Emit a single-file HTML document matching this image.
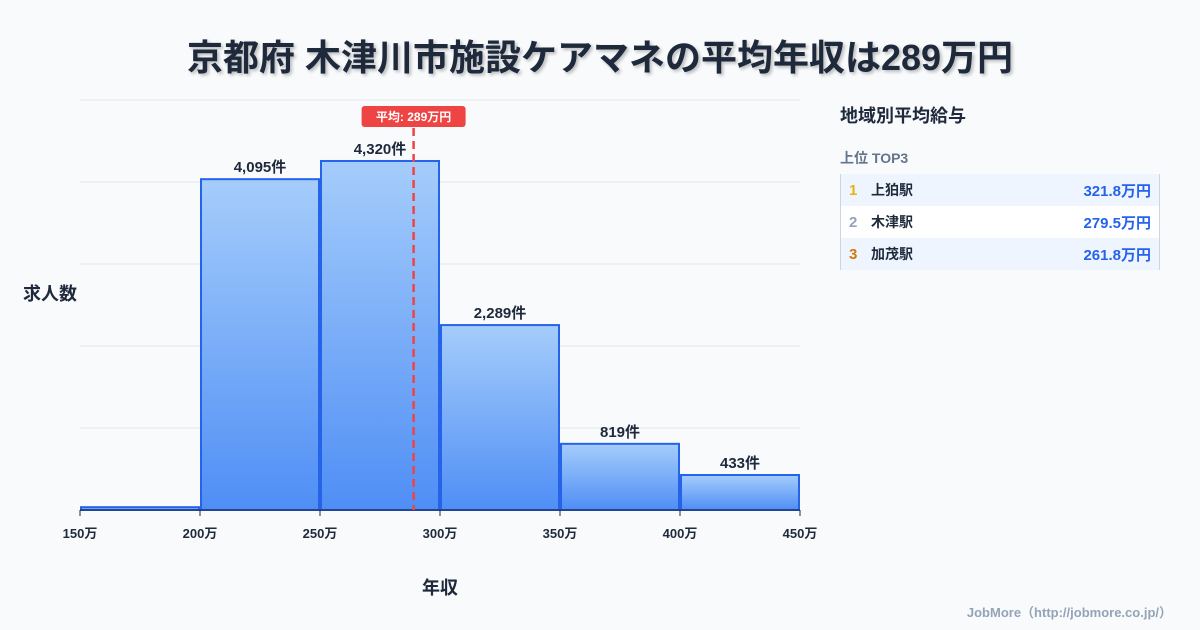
<!DOCTYPE html>
<html><head><meta charset="utf-8"><style>
body{margin:0;width:1200px;height:630px;background:#f8fafc;font-family:"Liberation Sans","Noto Sans CJK JP",sans-serif;overflow:hidden;position:relative;color:#1e293b}
.title{position:absolute;top:29px;left:0;width:1200px;text-align:center;font-size:36px;font-weight:bold;color:#1e293b;text-shadow:2px 2px 3px rgba(0,0,0,0.25)}
.side{position:absolute;left:840px;top:102px;width:320px}
.row{height:32px;display:flex;align-items:center;font-size:14px;font-weight:bold;padding:0 8px;border-left:1px solid #cbd5e1;border-right:1px solid #cbd5e1}
.row .n{width:22px;font-size:15px}
.row .v{margin-left:auto;color:#2563eb;font-size:15px}
</style></head><body>
<div class="title">京都府 木津川市施設ケアマネの平均年収は289万円</div>
<svg id="c" width="1200" height="630" style="position:absolute;left:0;top:0">
<defs><linearGradient id="g" x1="0" y1="0" x2="0" y2="1"><stop offset="0" stop-color="#a5cdfb"/><stop offset="1" stop-color="#4f8ef5"/></linearGradient></defs>
</svg>
<div class="side">
<div style="font-size:18px;font-weight:bold;margin-bottom:20px">地域別平均給与</div>
<div style="font-size:14px;font-weight:bold;color:#64748b;margin-bottom:6px">上位 TOP3</div>
<div class="row" style="background:#eef5ff"><span class="n" style="color:#eab308">1</span>上狛駅<span class="v">321.8万円</span></div>
<div class="row" style="background:#fff"><span class="n" style="color:#94a3b8">2</span>木津駅<span class="v">279.5万円</span></div>
<div class="row" style="background:#eef5ff"><span class="n" style="color:#d97706">3</span>加茂駅<span class="v">261.8万円</span></div>
</div>
<div style="position:absolute;right:28px;top:602px;font-size:13px;font-weight:bold;color:#94a3b8">JobMore（http://jobmore.co.jp/）</div>
<script>
const bins=[150,200,250,300,350,400];
const counts=[35,4095,4320,2289,819,433];
const labels=["","4,095件","4,320件","2,289件","819件","433件"];
const ticks=[150,200,250,300,350,400,450];
const avg=289;
const NS="http://www.w3.org/2000/svg";
const svg=document.getElementById('c');
const X0=80,X1=800,Y0=510,Y1=100,YMAX=5075;
const x=v=>X0+(v-150)/300*(X1-X0);
const y=v=>Y0-v/YMAX*(Y0-Y1);
function mk(t,a,p){const e=document.createElementNS(NS,t);for(const k in a)e.setAttribute(k,a[k]);(p||svg).appendChild(e);return e;}
for(let i=0;i<=5;i++){const g=mk('line',{x1:X0,x2:X1,y1:y(YMAX*i/5),y2:y(YMAX*i/5),stroke:'#e2e8f0','stroke-width':1});

}
bins.forEach((b,i)=>{const r=mk('rect',{x:x(b)+1,y:y(counts[i]),width:x(b+50)-x(b)-2,height:Y0-y(counts[i]),fill:'url(#g)',stroke:'#2563eb','stroke-width':2});


if(labels[i]){const t=mk('text',{x:(x(b)+x(b+50))/2,y:y(counts[i])-7,'text-anchor':'middle','font-size':15,'font-weight':'bold',fill:'#1e293b'});t.textContent=labels[i];

}});
const ax=mk('line',{x1:X0,x2:X1,y1:Y0,y2:Y0,stroke:'#1e293b','stroke-width':1});


ticks.forEach(t=>{mk('line',{x1:x(t),x2:x(t),y1:Y0,y2:Y0+6,stroke:'#1e293b'});
const l=mk('text',{x:x(t),y:Y0+28,'text-anchor':'middle','font-size':13,'font-weight':'bold',fill:'#1e293b'});l.textContent=t+'万';

});
const al=mk('line',{x1:x(avg),x2:x(avg),y1:128,y2:Y0,stroke:'#ef4444','stroke-width':2.5,'stroke-dasharray':'8,5'});


const ab=mk('rect',{x:x(avg)-52,y:106,width:104,height:21,rx:3,fill:'#ef4444'});


const at=mk('text',{x:x(avg),y:121,'text-anchor':'middle','font-size':12,'font-weight':'bold',fill:'#fff'});at.textContent='平均: '+avg+'万円';


const yt=mk('text',{x:50,y:300,'text-anchor':'middle','font-size':18,'font-weight':'bold',fill:'#1e293b'});yt.textContent='求人数';


const xt=mk('text',{x:440,y:594,'text-anchor':'middle','font-size':18,'font-weight':'bold',fill:'#1e293b'});xt.textContent='年収';


</script>
</body></html>
